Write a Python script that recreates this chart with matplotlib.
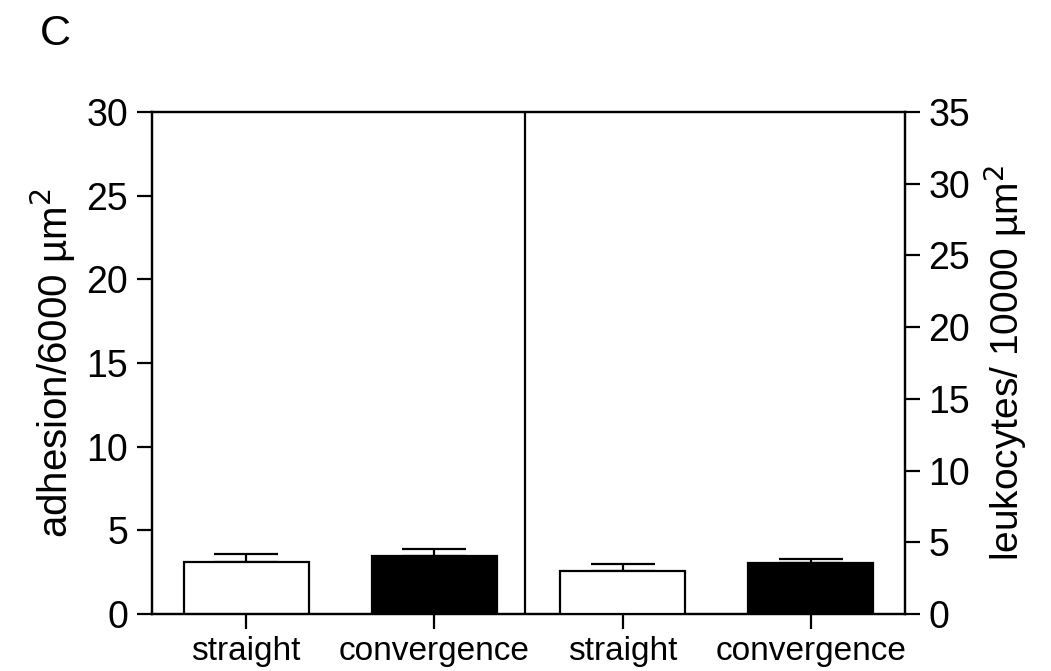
import matplotlib
matplotlib.use("Agg")
import matplotlib.pyplot as plt

plt.rcParams['font.family'] = ['Liberation Sans', 'DejaVu Sans']

# data
categories = ['straight', 'convergence', 'straight', 'convergence']
adhesion = [3.1, 3.45]          # left panel, left axis
adhesion_err = [0.48, 0.42]
leukocytes = [3.0, 3.55]        # right panel, right axis
leukocytes_err = [0.49, 0.3]
bar_colors = ['white', 'black']

fig = plt.figure(figsize=(10.51, 6.71), dpi=100)
ax = fig.add_axes([0.1446, 0.085, 0.7164, 0.748])
ax2 = ax.twinx()

w = 0.664
lw = 1.6
xl = [0.5, 1.5]
xr = [2.5, 3.5]

ax.bar(xl, adhesion, width=w, color=bar_colors, edgecolor='black', linewidth=lw, zorder=3)
ax.errorbar(xl, adhesion, yerr=[[0, 0], adhesion_err], fmt='none', ecolor='black',
            elinewidth=lw, capsize=23, capthick=lw, zorder=2)
ax2.bar(xr, leukocytes, width=w, color=bar_colors, edgecolor='black', linewidth=lw, zorder=3)
ax2.errorbar(xr, leukocytes, yerr=[[0, 0], leukocytes_err], fmt='none', ecolor='black',
             elinewidth=lw, capsize=23, capthick=lw, zorder=2)

ax.axvline(1.98, color='black', linewidth=lw)

ax.set_xlim(0, 4)
ax.set_ylim(0, 30)
ax2.set_ylim(0, 35)
ax.set_yticks(range(0, 31, 5))
ax2.set_yticks(range(0, 36, 5))
ax.set_xticks(xl + xr)
ax.set_xticklabels(categories, fontsize=24)

for a in (ax, ax2):
    for s in a.spines.values():
        s.set_linewidth(lw)
    a.tick_params(axis='y', labelsize=27, length=11, width=lw, pad=6)
ax.tick_params(axis='x', length=11, width=lw, pad=5)

ax.set_ylabel('adhesion/6000 µm$^2$', fontsize=29, labelpad=6)
ax2.set_ylabel('leukocytes/ 10000 µm$^2$', fontsize=28, labelpad=8)

fig.text(0.038, 0.95, 'C', fontsize=31, ha='left', va='center')

fig.savefig('out.png', dpi=100)
